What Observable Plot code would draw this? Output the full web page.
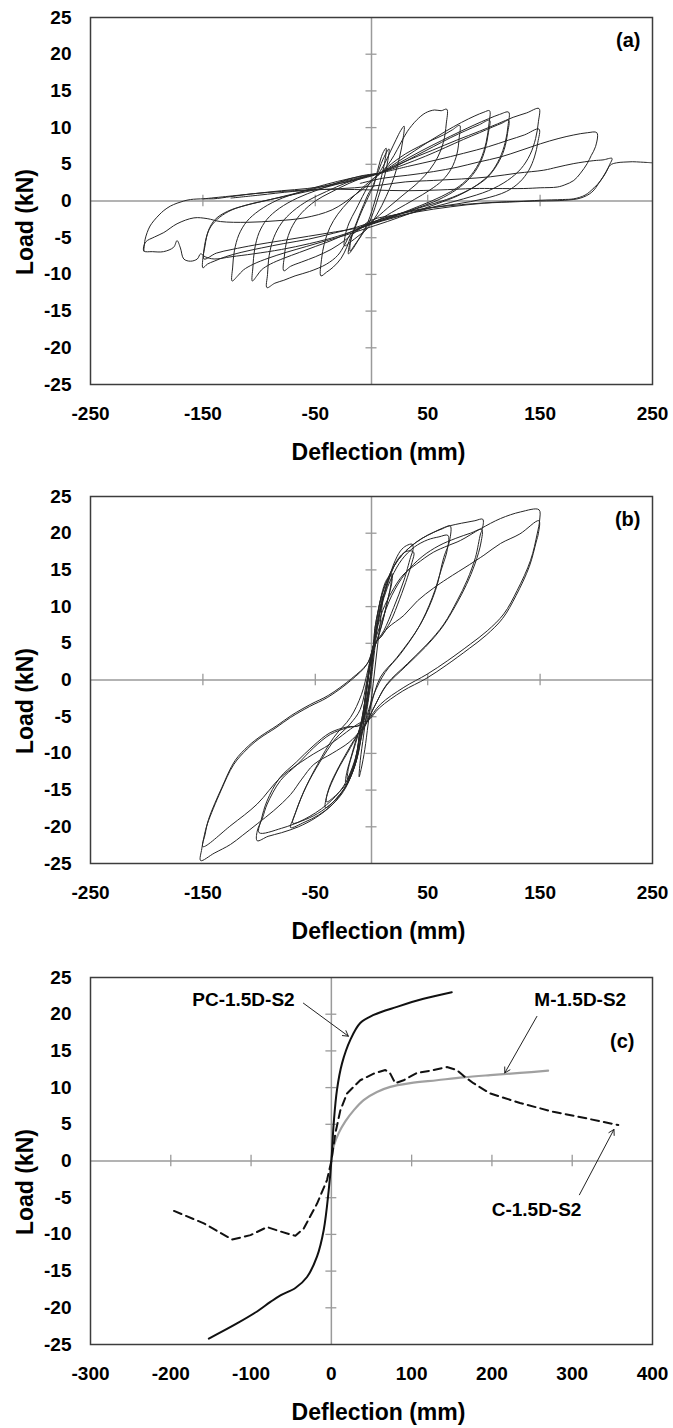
<!DOCTYPE html>
<html><head><meta charset="utf-8">
<script src="https://cdn.jsdelivr.net/npm/d3@7"></script>
<script src="https://cdn.jsdelivr.net/npm/@observablehq/plot@0.6"></script>
<style>
body{margin:0;background:#fff;}
#chart svg{display:block;}
</style></head><body><div id="chart"></div>
<script>
// ---------- tick values ----------
const yTicks = [-25,-20,-15,-10,-5,0,5,10,15,20,25];
const yZeroTicks = [-20,-15,-10,-5,5,10,15,20];
const xTicksAB = [-250,-150,-50,50,150,250];
const xZeroTicksAB = [-150,-50,50,150];
const xTicksC = [-300,-200,-100,0,100,200,300,400];
const xZeroTicksC = [-200,-100,100,200,300];

// ---------- panel (a): cyclic load-deflection loops ----------
const cyclesA = [
 [[0,1.5],[5,3.6],[10,5.6],[14,6.8],[15.6,7.1],[14.5,5.5],[11,3],[6,0.5],[0,-2.2],[-6,-4],[-12,-5.4],[-17,-6.6],[-20.5,-7.2],[-19,-5.6],[-15,-3.8],[-9,-1.5],[-3,0.5],[0,1.5]],
 [[2,2],[6,4.5],[10,6.5],[13,7.2],[12,5.5],[8,2.8],[3,0],[-3,-2.8],[-9,-4.6],[-15,-6],[-19,-6.8],[-18,-5],[-13,-2.8],[-7,-0.5],[-2,1.2],[2,2]],
 [[6,3.6],[12,5.2],[17,6.8],[22,8.4],[26,9.6],[29,10.2],[28,8.4],[25,6],[20,3.2],[13,0.6],[5,-1.8],[-4,-3.8],[-12,-4.8],[-18,-5.5],[-24,-6.1],[-23.5,-4.8],[-20,-3],[-14,-1.2],[-6,1.2],[0,2.8],[6,3.6]],
 [[8,3.8],[14,4.8],[20,6.2],[26,7.9],[32,9.5],[40,11],[48,12],[56,12.4],[62,12.3],[67,12.5],[66.5,10.5],[64,8],[59,6],[52,4.3],[42,2.6],[28,0.8],[14,-1],[0,-2.8],[-12,-3.8],[-18,-4.8],[-22,-6.3],[-27,-7.8],[-34,-9],[-40,-9.7],[-45,-10.2],[-44.5,-8],[-42,-5.8],[-37,-3.6],[-30,-1.8],[-20,0],[-8,1.8],[2,3.1],[8,3.8]],
 [[8,3.8],[18,5.1],[30,6.4],[42,7.4],[54,8.3],[64,9],[72,9.7],[78.5,10.3],[78,8.6],[76,6.4],[71,4.4],[63,2.8],[52,1.5],[38,0.2],[22,-1.2],[6,-2.6],[-6,-3.4],[-14,-4.2],[-24,-5.4],[-36,-6.6],[-50,-7.6],[-62,-8.3],[-72,-8.9],[-78,-9.5],[-77.5,-7.5],[-75,-5.2],[-70,-3.3],[-62,-1.6],[-50,0],[-36,1.2],[-20,2.4],[-5,3.3],[8,3.8]],
 [[8,3.8],[22,5.2],[38,6.8],[52,8.2],[66,9.5],[80,10.7],[92,11.6],[100,12.1],[105,12.3],[104.5,10.5],[102,8],[97,5.6],[89,3.6],[78,2],[62,0.6],[44,-0.6],[24,-1.8],[6,-2.8],[-8,-3.6],[-18,-4.4],[-24,-6],[-30,-7.4],[-40,-8.6],[-55,-9.6],[-68,-10.2],[-78,-10.8],[-86,-11.2],[-93,-11.8],[-92.5,-10],[-91,-7.4],[-87,-5],[-80,-3],[-70,-1.4],[-56,0.1],[-40,1.3],[-22,2.5],[-6,3.3],[8,3.8]],
 [[8,3.8],[24,4.9],[40,6.2],[55,7.4],[70,8.6],[84,9.6],[96,10.4],[105,11],[104,9.3],[101,7],[96,5],[88,3.2],[76,1.6],[60,0.2],[40,-1],[20,-2.1],[2,-3],[-12,-3.8],[-24,-4.6],[-36,-5.4],[-50,-6.2],[-64,-7],[-78,-7.8],[-90,-8.6],[-98,-9.4],[-102,-10.2],[-106,-10.9],[-105.5,-9],[-104,-6.6],[-100,-4.3],[-93,-2.5],[-82,-1],[-66,0.4],[-48,1.5],[-28,2.6],[-10,3.4],[8,3.8]],
 [[8,3.8],[26,5.3],[44,6.8],[62,8.2],[78,9.4],[92,10.4],[104,11.2],[114,11.8],[122,12.1],[121.5,10.3],[119,8],[114,5.8],[106,3.8],[94,2.2],[78,0.8],[58,-0.4],[36,-1.6],[14,-2.8],[-6,-3.8],[-22,-4.6],[-40,-5.4],[-58,-6.2],[-76,-7],[-92,-7.8],[-105,-8.6],[-114,-9.4],[-119,-10.2],[-124,-10.9],[-123.5,-9],[-122,-6.8],[-118,-4.6],[-111,-2.8],[-100,-1.3],[-84,0.1],[-64,1.2],[-42,2.2],[-18,3.1],[8,3.8]],
 [[8,3.8],[28,4.9],[48,6.1],[66,7.3],[82,8.4],[96,9.3],[108,10.1],[116,10.6],[122,11],[121,9.2],[118,7],[112,5],[103,3.2],[90,1.8],[72,0.5],[50,-0.6],[28,-1.6],[6,-2.6],[-14,-3.6],[-34,-4.4],[-56,-5.2],[-78,-5.8],[-98,-6.4],[-116,-7],[-130,-7.6],[-140,-8.2],[-146,-8.6],[-150,-9.1],[-149.5,-7.2],[-147,-5],[-143,-3.5],[-135,-2.2],[-124,-1.2],[-110,-0.5],[-90,0.2],[-66,1],[-40,1.9],[-16,2.9],[8,3.8]],
 [[8,3.8],[30,5.4],[54,6.9],[76,8.3],[96,9.5],[112,10.5],[126,11.4],[138,12],[149,12.6],[148.5,10.8],[146,8.5],[141,6.3],[133,4.4],[121,2.8],[104,1.4],[82,0.3],[58,-0.7],[34,-1.7],[10,-2.7],[-10,-3.6],[-32,-4.2],[-56,-4.8],[-80,-5.4],[-104,-6],[-124,-6.6],[-138,-7.1],[-149,-7.9],[-148,-6],[-145,-4],[-139,-2.5],[-128,-1.4],[-112,-0.6],[-90,0.2],[-66,1.1],[-40,2.1],[-16,3],[8,3.8]],
 [[8,3.8],[32,4.7],[58,5.6],[82,6.5],[104,7.4],[122,8.3],[136,9],[149,9.8],[148,8],[145,6],[140,4.2],[132,2.6],[120,1.3],[100,0.3],[76,-0.4],[50,-1],[24,-1.8],[0,-2.6],[-12,-3.8],[-30,-4.8],[-55,-5.8],[-80,-6.6],[-105,-7.2],[-125,-7.6],[-140,-7.9],[-148,-7.6],[-152,-7.2],[-155,-7.9],[-161,-8.2],[-167,-7.9],[-170,-6.4],[-173,-5.4],[-176,-6.3],[-185,-6.9],[-195,-6.9],[-202.6,-6.8],[-201,-5.6],[-193,-4.9],[-184.8,-4.3],[-173,-3.1],[-158,-2.3],[-146.2,-2.4],[-134.4,-2.8],[-110,-2.9],[-85,-2.7],[-60,-2.3],[-35,-1.2],[-15,0.8],[0,2.6],[8,3.8]],
 [[-10,2.4],[10,3.1],[31.8,3.5],[55,4],[76.2,4.6],[95,5.3],[114.8,6],[133,6.9],[150.4,7.8],[166,8.5],[180,9],[192,9.3],[200.5,9.3],[199.3,7.4],[195.5,6.2],[191.9,5.1],[186,3.8],[180,2.8],[172,2.2],[165.2,1.9],[150,1.8],[135.5,1.7],[110,1.7],[91,1.7],[60,1.5],[31.8,1.4],[0,1.5],[-30,1.6],[-57,1.5],[-80,1.3],[-104.7,1],[-125,0.6],[-140.4,0.3],[-149.3,0.3],[-161,0.2],[-167,0],[-173,-0.3],[-179,-0.7],[-184.8,-1.3],[-189,-1.9],[-193.7,-2.7],[-197,-3.4],[-199.6,-4.3],[-201.5,-5.3],[-202.6,-6.8]],
 [[-12,-3.8],[10,-2.6],[40,-1.5],[70,-0.8],[100,-0.3],[130,-0.1],[150,0.1],[170,0.2],[180,0.3],[190,0.8],[198,1.8],[204,2.8],[209,4],[212,5],[214,5.8],[206,5.6],[197.8,5.5],[180,5.1],[165,4.6],[153.3,4.2],[130,3.8],[105.9,3.3],[80,3],[55,2.8],[30,2.6],[10,2.2],[-15,1.8],[-40,1.6],[-70,1.3],[-100,0.8],[-125,0.4]],
 [[-149.3,0.3],[-130,0.6],[-104.7,1],[-80,1.4],[-57.2,1.7],[-35,2.2],[-15.7,2.8],[0,3.4],[8,3.8]],
 [[-12,-3.8],[10,-2.4],[40,-1.2],[80,-0.5],[120,-0.1],[150,0],[172,0.1],[186,0.4],[196,1.2],[203,2.6],[208,3.8],[212.5,4.9],[218,5.2],[224.5,5.3],[232,5.35],[239.3,5.3],[245,5.25],[250,5.2]]
];

// ---------- panel (b): cyclic load-deflection loops ----------
const cyclesB = [
 [[-1,-1],[2,3],[5,7],[8,10.2],[10,11.5],[9,9.5],[6,5.5],[3,1.5],[0,-2.5],[-3,-6],[-6,-9.5],[-9,-12],[-11,-13.2],[-10,-11],[-7,-7.5],[-4,-4],[-1,-1]],
 [[2,4.9],[5,7.5],[9,10.5],[13,12.8],[16,14],[18.4,14.5],[18,13.2],[14.5,11],[10,8],[5.5,5.6],[2,4.2],[-1,0],[-4,-3.5],[-7,-5.5],[-9.8,-6.5],[-12,-9],[-16,-11.8],[-20,-13.3],[-23,-13.9],[-22,-12.6],[-18,-10.4],[-13.5,-8],[-9.8,-6.2],[-6,-3],[-2,1],[2,4.9]],
 [[2,4.9],[4.5,7.8],[8,11],[12,13.2],[15,14],[17.5,14.3],[17,12.8],[13.5,10.3],[9,7.5],[5,5.5],[1.5,3.8],[-1.5,-0.5],[-5,-4],[-8.5,-6],[-11,-8.5],[-15,-11.2],[-19,-12.8],[-21.5,-13.5],[-20.5,-12],[-16.5,-9.8],[-12,-7.5],[-8.5,-5.2],[-4.5,-1.5],[-1,2.5],[2,4.9]],
 [[2,4.9],[3.6,6.3],[8,9.9],[14,13.1],[19.8,15.8],[25.8,17.6],[31,18.3],[36.2,18.5],[37,17.8],[34.7,16.7],[28.7,13.5],[19.8,9.9],[10.9,6.7],[3.6,4.9],[0,1.5],[-4,-2.5],[-8.3,-6.9],[-12.7,-10.6],[-21.6,-14.2],[-30.5,-16],[-36,-16.9],[-41,-17.4],[-39.4,-15.6],[-30.5,-12.4],[-18.7,-9.2],[-9.8,-6.5],[-5,-2],[-1,2.5],[2,4.9]],
 [[2,4.9],[4.5,7],[9,10.3],[15,13.4],[21,15.8],[27,17.1],[33,17.6],[37.6,17.4],[36,16],[32,14],[25,11],[17,8],[9,6],[3,4.9],[-1,0.5],[-5,-4],[-9,-7.5],[-14,-11.2],[-22,-14],[-31,-15.6],[-40,-16.6],[-38,-14.8],[-29,-11.8],[-18,-8.8],[-9.8,-6.5],[-5,-1.5],[-1,3],[2,4.9]],
 [[2,4.9],[3,7],[6,9.5],[9,11.5],[14,13.6],[20,15.5],[27,17],[35,18.2],[45,19.3],[55,20.1],[63,20.6],[70,21],[69.5,19],[64.3,16.7],[56.9,12.2],[43.6,7.6],[22.8,3.1],[8,0.4],[-1,-3.7],[-6,-6.3],[-9.8,-7],[-13,-10.5],[-18,-13],[-25,-15.2],[-35,-17],[-47,-18.4],[-60,-19.4],[-72,-20.1],[-69,-18.7],[-60,-15.1],[-48,-11.5],[-33.5,-7.8],[-18.7,-5.1],[-9,-2],[-3,1.5],[2,4.9]],
 [[2,4.9],[6,8],[11,11.2],[18,14],[27,16.4],[38,18.1],[50,19.1],[60,19.5],[68,19.7],[67.5,17.8],[62,15],[54,11.2],[42,7.2],[26,3.6],[12,1],[2,-2],[-6,-6],[-10,-8.5],[-15,-11.8],[-23,-14.5],[-34,-16.6],[-48,-18.2],[-62,-19.2],[-70,-19.5],[-67,-17.8],[-58,-14.5],[-46,-11.2],[-32,-8],[-19,-6],[-10,-4],[-4,0],[2,4.9]],
 [[2,4.9],[3,7],[6,9.5],[9,11.5],[14,13.6],[20,15.5],[27,17],[35,18.2],[45,19.3],[55,20.1],[65,20.8],[75,21.2],[85,21.5],[92,21.7],[99,21.9],[98.5,20.5],[97,19.9],[92.5,16.7],[85.1,13.6],[76.2,10.8],[64.3,7.6],[49.6,4.9],[31.8,2.2],[14,-0.5],[3,-3.5],[-6,-6.3],[-9.8,-7],[-13,-10],[-18,-12.8],[-25,-15],[-35,-17],[-50,-18.8],[-65,-20],[-80,-20.8],[-92,-21.3],[-101.7,-21.9],[-101.7,-20.6],[-97,-18.8],[-92.8,-16.9],[-81,-13.7],[-66,-11.5],[-51.3,-9.2],[-36.5,-7.4],[-21.6,-6.5],[-9.8,-6],[-5,-2],[-1,2.5],[2,4.9]],
 [[2,4.9],[9,8],[18,11.5],[30,14.5],[45,16.8],[60,18.3],[75,19.3],[88,20],[98,20.5],[97.5,18.8],[92,15.8],[84.5,13],[75,10.2],[63,7.2],[48,4.5],[30,1.8],[13,-0.8],[2,-3.8],[-6,-6.3],[-9.8,-7.5],[-15,-11],[-25,-14.5],[-40,-17],[-60,-19],[-80,-20.2],[-100,-20.8],[-98,-19],[-93,-16.5],[-82,-13.4],[-67,-11.2],[-52,-9],[-37,-7.2],[-22,-6.4],[-10,-6.1],[-4,-2.2],[0,1.2],[2,4.9]],
 [[2,4.9],[5,7],[10,9.5],[18,12],[28,14.3],[40,15.8],[55,17.4],[68,18.3],[79,19],[97,20.6],[114.8,22],[132.6,22.9],[149,23.2],[149.6,21.8],[147.4,19.9],[141.5,16.3],[129.6,12.2],[117.7,9],[103,6.7],[88,4.9],[67.4,2.6],[49.6,0.8],[28.8,-1],[8,-3.3],[-3,-5.5],[-9.8,-6.9],[-20,-8.5],[-35,-10],[-51.3,-11.5],[-62,-13.5],[-72,-15.6],[-87,-17.8],[-101.7,-19.6],[-115,-21.2],[-125.4,-22.4],[-140,-23.6],[-152,-24.6],[-151,-23],[-148.5,-21],[-146,-19.6],[-134,-15.1],[-122.5,-11.5],[-110.6,-9.4],[-100,-8],[-85,-6.5],[-72,-5.1],[-55,-3.6],[-39.4,-2.4],[-18.7,-0.1],[-3.8,2.2],[2,4.9]],
 [[2,4.9],[8,5.8],[14.5,7.1],[28.8,8.8],[41,10.8],[55,12.5],[67.4,13.8],[87,15.7],[100,17],[114.8,18.6],[132,19.9],[148.9,21.7],[148.5,20],[146.5,18.8],[140.5,15.5],[128.6,11.5],[116.7,8.4],[102,6.1],[87,4.3],[66.4,2],[48.6,0.2],[27.8,-1.5],[7,-3.8],[-3,-5.5],[-9.8,-5.8],[-36.5,-8.7],[-57,-10.6],[-81,-13.3],[-101.7,-16.9],[-125,-19.8],[-150,-22.7],[-148,-21],[-145,-19],[-133,-14.6],[-121.5,-11],[-109.6,-9],[-99,-7.7],[-84,-6.2],[-71,-4.8],[-54,-3.3],[-38.4,-2.1],[-17.7,0.2],[-3,2.4],[2,4.9]]
];

// ---------- panel (c): envelope curves ----------
const pcData = [[-152.6,-24.2],[-117,-22.1],[-92.5,-20.5],[-75.9,-19.2],[-63.4,-18.3],[-44.8,-17.3],[-30.3,-15.8],[-17.8,-13],[-9.5,-9.4],[-3.3,-4],[0,0],[2.9,5.1],[7,9.7],[13.3,13.3],[23.6,16.5],[36,18.8],[52.7,19.9],[81.7,21],[114.8,22.1],[150,23]];
const mData = [[0,0],[2.9,2],[9.1,3.8],[17.4,5.4],[27.8,6.9],[40.2,8.3],[56.8,9.4],[73.4,10.1],[98.3,10.6],[131.4,11],[164.6,11.4],[197.8,11.7],[235,12],[270,12.3]];
const cData = [[-196,-6.8],[-158.8,-8.5],[-123.5,-10.7],[-100.7,-10.1],[-80,-9],[-63.4,-9.6],[-44.8,-10.2],[-34.4,-9.2],[-17.8,-5.8],[-5.4,-2.6],[0,0],[5,3.8],[11.2,6.9],[19.5,9.2],[36,11],[52.7,11.9],[67.2,12.4],[73.4,11.9],[79.6,10.6],[90,11],[106.5,12],[123,12.3],[143.9,12.8],[156.3,12.4],[164.6,11.6],[177,10.6],[197.8,9.2],[235,7.9],[276.5,6.7],[318,5.8],[357.4,4.9]];
const seriesNames = ["PC-1.5D-S2","M-1.5D-S2","C-1.5D-S2"];
const labelAt = [[-109.5,21.9],[310,21.9],[255.6,-6.7]];
const arrowFrom = [[-34.8,21.5],[256,19.7],[309,-4.6]];
const arrowTo = [[21.2,17],[216,12],[352,4.3]];

// ---------- drawing ----------
const FONT = "'Liberation Sans', Arial, Helvetica, sans-serif";
const GRAY = "#9a9a9a";

function panel({H, xDomain, xTicks, xZero, halfX, marks, tag, tagDx, tagDy}) {
  return Plot.plot({
    width: 673, height: H,
    marginLeft: 90, marginRight: 21, marginTop: 17, marginBottom: H - 384,
    x: {domain: xDomain}, y: {domain: [-25, 25]},
    style: {fontFamily: FONT, fontWeight: "bold", color: "#000", background: "#fff"},
    marks: [
      Plot.ruleY([0], {stroke: GRAY, strokeWidth: 1.5}),
      Plot.ruleX([0], {stroke: GRAY, strokeWidth: 1.5}),
      Plot.ruleX(xZero, {x: d => d, y1: -0.8, y2: 0.8, stroke: GRAY, strokeWidth: 1.3}),
      Plot.ruleY(yZeroTicks, {y: d => d, x1: -halfX, x2: halfX, stroke: GRAY, strokeWidth: 1.3}),
      ...marks,
      Plot.frame({stroke: "#3c3c3c", strokeWidth: 1.5}),
      Plot.axisY({ticks: yTicks, tickSize: 0, tickPadding: 19, fontSize: 19, fontWeight: "bold", tickFormat: d => String(d), label: null}),
      Plot.axisX({ticks: xTicks, tickSize: 0, tickPadding: 22, fontSize: 19, fontWeight: "bold", tickFormat: d => String(d), label: null}),
      Plot.text(["Load (kN)"], {text: d => d, frameAnchor: "left", rotate: -90, dx: -65, dy: 21, textAnchor: "middle", lineAnchor: "middle", fontSize: 23, fontWeight: "bold"}),
      Plot.text(["Deflection (mm)"], {text: d => d, frameAnchor: "bottom", dx: 7, dy: 68, textAnchor: "middle", lineAnchor: "middle", fontSize: 23, fontWeight: "bold"}),
      Plot.text([tag], {text: d => d, frameAnchor: "top-right", dx: tagDx, dy: tagDy, textAnchor: "end", lineAnchor: "top", fontSize: 20, fontWeight: "bold"})
    ]
  });
}

function rows(cycles) {
  return cycles.flatMap((c, i) => c.map(([x, y]) => ({x, y, cycle: i})));
}

const chart = document.getElementById("chart");

chart.append(panel({
  H: 479, xDomain: [-250, 250], xTicks: xTicksAB, xZero: xZeroTicksAB, halfX: 4.9,
  tag: "(a)", tagDx: -12, tagDy: 15,
  marks: [Plot.line(rows(cyclesA), {x: "x", y: "y", z: "cycle", stroke: "#262626", strokeWidth: 1, curve: "catmull-rom", clip: true})]
}));

chart.append(panel({
  H: 481, xDomain: [-250, 250], xTicks: xTicksAB, xZero: xZeroTicksAB, halfX: 4.9,
  tag: "(b)", tagDx: -12, tagDy: 15,
  marks: [Plot.line(rows(cyclesB), {x: "x", y: "y", z: "cycle", stroke: "#262626", strokeWidth: 1, curve: "catmull-rom", clip: true})]
}));

const annot = seriesNames.map((name, i) => ({name, x: labelAt[i][0], y: labelAt[i][1], x1: arrowFrom[i][0], y1: arrowFrom[i][1], x2: arrowTo[i][0], y2: arrowTo[i][1]}));

chart.append(panel({
  H: 468, xDomain: [-300, 400], xTicks: xTicksC, xZero: xZeroTicksC, halfX: 6.8,
  tag: "(c)", tagDx: -18, tagDy: 56,
  marks: [
    Plot.line(mData, {x: d => d[0], y: d => d[1], stroke: "#a0a0a0", strokeWidth: 2.2, curve: "catmull-rom"}),
    Plot.line(cData, {x: d => d[0], y: d => d[1], stroke: "#111", strokeWidth: 2, strokeDasharray: "8,5"}),
    Plot.line(pcData, {x: d => d[0], y: d => d[1], stroke: "#111", strokeWidth: 2, curve: "catmull-rom"}),
    Plot.arrow(annot, {x1: "x1", y1: "y1", x2: "x2", y2: "y2", stroke: "#222", strokeWidth: 1, headLength: 9}),
    Plot.text(annot, {x: "x", y: "y", text: "name", fontSize: 19, fontWeight: "bold"})
  ]
}));
</script></body></html>
